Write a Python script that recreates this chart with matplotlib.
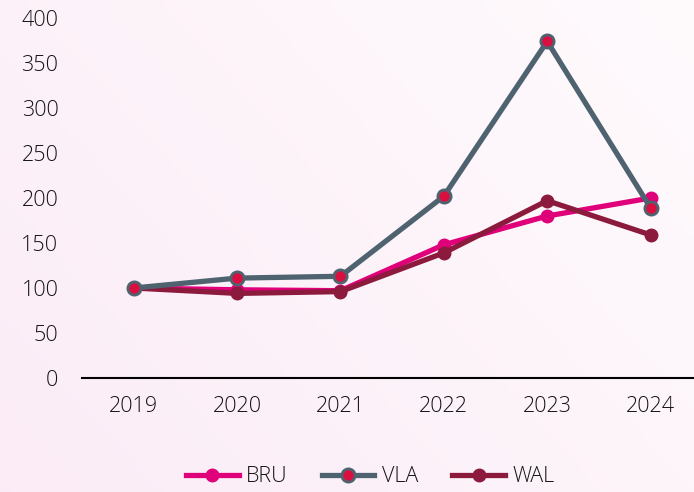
import matplotlib
matplotlib.use("Agg")
import matplotlib.pyplot as plt
import numpy as np

years = [2019, 2020, 2021, 2022, 2023, 2024]
bru = [100, 98, 97, 148, 180, 200]
vla = [100, 111, 113, 202, 374, 189]
wal = [100, 94, 96, 139, 197, 159]
y_ticks = [0, 50, 100, 150, 200, 250, 300, 350, 400]

plt.rcParams['font.family'] = ['Open Sans', 'DejaVu Sans']
plt.rcParams['font.weight'] = 'light'

fig = plt.figure(figsize=(6.94, 4.92), dpi=100)

# soft pink background gradient (pink on the left, fading to white)
bg = fig.add_axes([0, 0, 1, 1], zorder=0)
gx = np.linspace(0, 1, 200)
gy = np.linspace(0, 1, 200)
X, Y = np.meshgrid(gx, gy)
t = np.clip(0.55 * X + 0.35 * (1 - Y), 0, 1)
c0 = np.array([0.985, 0.925, 0.965])
c1 = np.array([1.0, 0.99, 0.995])
img = c0[None, None, :] * (1 - t[..., None]) + c1[None, None, :] * t[..., None]
bg.imshow(img, aspect='auto', extent=[0, 1, 0, 1], origin='upper')
bg.axis('off')

ax = fig.add_axes([82 / 694, 1 - 378 / 492, 612 / 694, 360 / 492], zorder=1)
ax.patch.set_alpha(0)

ax.plot(years, bru, color='#e0007a', lw=3.8, marker='o', ms=9,
        mfc='#e0007a', mec='#e0007a', label='BRU', zorder=3)
ax.plot(years, vla, color='#4f6270', lw=3.8, marker='o', ms=9.5,
        mfc='#d9103f', mec='#4f6270', mew=2, label='VLA', zorder=4)
ax.plot(years, wal, color='#8b1a3d', lw=3.8, marker='o', ms=9,
        mfc='#8b1a3d', mec='#8b1a3d', label='WAL', zorder=3)

ax.set_ylim(0, 400)
ax.set_xlim(2018.5, 2024.42)
ax.set_yticks(y_ticks)
ax.set_xticks(years)
ax.tick_params(length=0, labelsize=15.5, colors='#141414')
ax.tick_params(axis='y', pad=17)
ax.tick_params(axis='x', pad=13)
for s in ['top', 'right', 'left']:
    ax.spines[s].set_visible(False)
ax.spines['bottom'].set_color('black')
ax.spines['bottom'].set_linewidth(1.5)

leg = fig.legend(loc='center', bbox_to_anchor=(370 / 694, 1 - 477 / 492),
                 ncol=3, frameon=False, fontsize=15.5, handlelength=2.45,
                 columnspacing=1.6, handletextpad=0.33)
for txt in leg.get_texts():
    txt.set_color('#141414')

fig.savefig('out.png', dpi=100)
